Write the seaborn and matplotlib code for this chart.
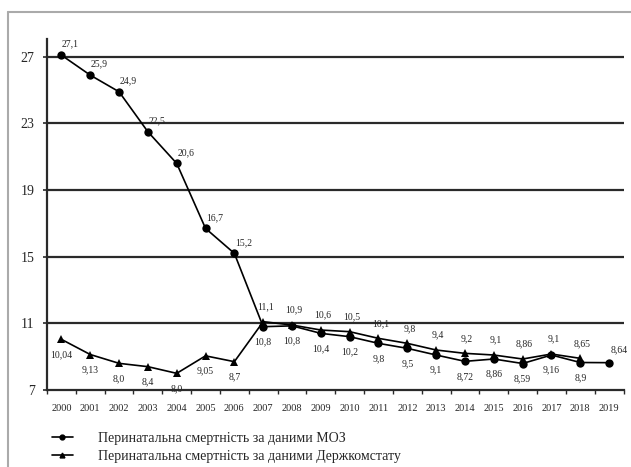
import matplotlib
matplotlib.use("Agg")
import matplotlib.pyplot as plt
from matplotlib.lines import Line2D
import seaborn as sns
import pandas as pd
import numpy as np

years = list(range(2000, 2020))
moz = [27.1, 25.9, 24.9, 22.5, 20.6, 16.7, 15.2, 10.8, 10.85, 10.4, 10.2, 9.8, 9.5,
       9.1, 8.72, 8.86, 8.59, 9.1, 8.65, 8.64]
derzh = [10.04, 9.13, 8.6, 8.4, 8.0, 9.05, 8.7, 11.1, 10.9, 10.6, 10.5, 10.1, 9.8,
         9.4, 9.2, 9.1, 8.86, 9.16, 8.9, np.nan]
moz_labels = ["27,1", "25,9", "24,9", "22,5", "20,6", "16,7", "15,2", "10,8", "10,8",
              "10,4", "10,2", "9,8", "9,5", "9,1", "8,72", "8,86", "8,59", "9,16",
              "8,9", "8,64"]
derzh_labels = ["10,04", "9,13", "8,0", "8,4", "8,0", "9,05", "8,7", "11,1", "10,9",
                "10,6", "10,5", "10,1", "9,8", "9,4", "9,2", "9,1", "8,86", "9,1",
                "8,65", ""]
series_names = ["Перинатальна смертність за даними МОЗ",
                "Перинатальна смертність за даними Держкомстату"]
y_ticks = [7, 11, 15, 19, 23, 27]

sns.set_theme(style="white")
plt.rcParams["font.family"] = ["Liberation Serif", "DejaVu Serif"]

W, H, DPI = 631, 467, 100
fig = plt.figure(figsize=(W / DPI, H / DPI), dpi=DPI)
ax = fig.add_axes([47 / W, (H - 390) / H, (623.5 - 47) / W, (390 - 39.3) / H])

df = pd.DataFrame({
    "year": years * 2,
    "value": moz + derzh,
    "series": [series_names[0]] * len(years) + [series_names[1]] * len(years),
})
df = df.dropna()

sns.lineplot(data=df, x="year", y="value", hue="series", style="series",
             markers={series_names[0]: "o", series_names[1]: "^"},
             dashes=False, palette=["black", "black"], linewidth=1.2,
             markersize=6, markeredgewidth=0, ax=ax, legend=False, zorder=3)

ax.set_xlim(years[0] - 0.5, years[-1] + 0.5)
ax.set_ylim(7, 28.05)
ax.set_xlabel("")
ax.set_ylabel("")

# grid lines
for v in y_ticks[1:]:
    ax.axhline(v, color="#2a2a2a", lw=1.6, zorder=1)

for s in ["top", "right"]:
    ax.spines[s].set_visible(False)
for s in ["left", "bottom"]:
    ax.spines[s].set_color("#2a2a2a")
    ax.spines[s].set_linewidth(1.6)

ax.set_yticks(y_ticks)
ax.set_yticklabels([str(t) for t in y_ticks], fontsize=10)
ax.tick_params(axis="y", which="major", left=True, length=3, width=1.2,
               color="#2a2a2a", pad=6)
ax.set_xticks(years)
ax.set_xticklabels([str(y) for y in years], fontsize=7.5)
ax.set_xticks([y + 0.5 for y in [years[0] - 1] + years], minor=True)
ax.tick_params(axis="x", which="major", length=0, pad=10)
ax.tick_params(axis="x", which="minor", bottom=True, length=3, width=1.0,
               color="#2a2a2a")

px = 0.72  # points per pixel
fs = 7
for i, y in enumerate(years):
    # MOZ labels
    if i <= 6:
        ax.annotate(moz_labels[i], (y, moz[i]), xytext=(9 * px, 11 * px),
                    textcoords="offset points", ha="center", va="center", fontsize=fs)
    elif i == len(years) - 1:
        ax.annotate(moz_labels[i], (y, moz[i]), xytext=(10 * px, 13 * px),
                    textcoords="offset points", ha="center", va="center", fontsize=fs)
    else:
        ax.annotate(moz_labels[i], (y, moz[i]), xytext=(0, -15 * px),
                    textcoords="offset points", ha="center", va="center", fontsize=fs)
    # Derzh labels
    if derzh_labels[i]:
        if i <= 6:
            ax.annotate(derzh_labels[i], (y, derzh[i]), xytext=(0, -15 * px),
                        textcoords="offset points", ha="center", va="center", fontsize=fs)
        else:
            ax.annotate(derzh_labels[i], (y, derzh[i]), xytext=(2 * px, 15 * px),
                        textcoords="offset points", ha="center", va="center", fontsize=fs)

# outer frame (top and left grey lines)
fig.add_artist(Line2D([8 / W, 1], [1 - 12 / H, 1 - 12 / H], color="#aaaaaa", lw=1.5))
fig.add_artist(Line2D([8 / W, 8 / W], [0, 1 - 12 / H], color="#aaaaaa", lw=1.5))

handles = [Line2D([], [], color="black", lw=1.2, marker="o", markersize=3.5),
           Line2D([], [], color="black", lw=1.2, marker="^", markersize=3.5)]
fig.legend(handles, series_names, loc="upper left",
           bbox_to_anchor=(52 / W, 1 - 432 / H), frameon=False, fontsize=10,
           handlelength=1.5, handletextpad=1.8, labelspacing=0.35,
           borderaxespad=0, borderpad=0)

fig.savefig("out.png", dpi=DPI)
